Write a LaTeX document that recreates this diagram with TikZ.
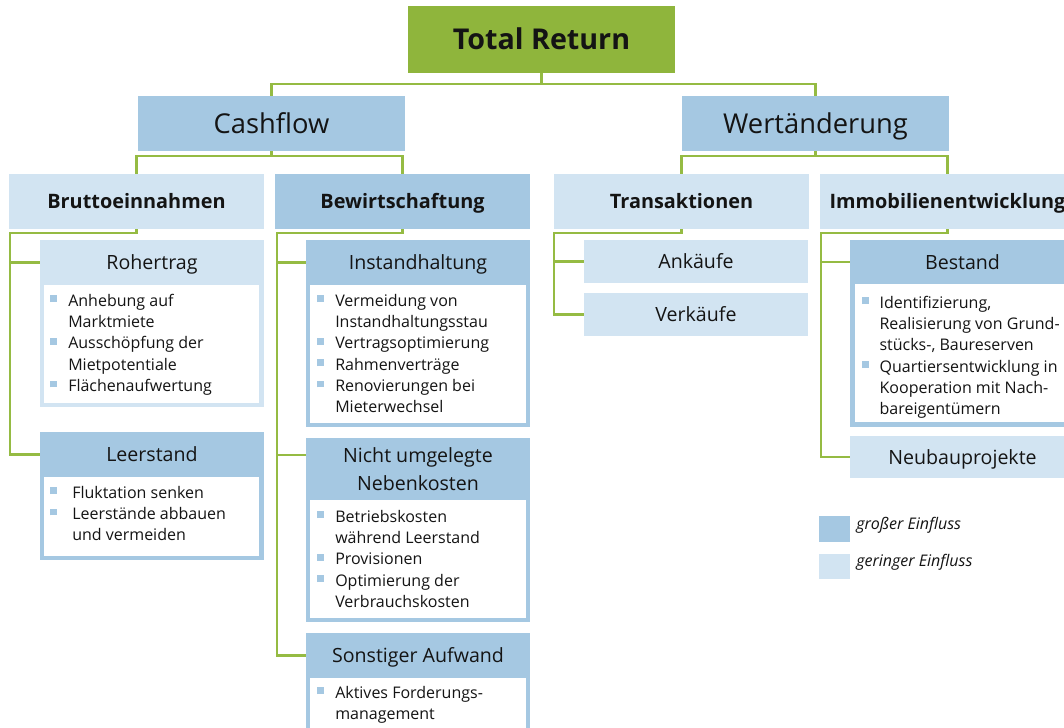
\documentclass[tikz,border=0pt]{standalone}
\usepackage{fontspec}
\setmainfont{Open Sans}
\usetikzlibrary{fit,calc}
\definecolor{gr}{HTML}{8FB53C}
\definecolor{ln}{HTML}{95BB43}
\definecolor{db}{HTML}{A5C8E2}
\definecolor{lb}{HTML}{D2E4F2}
\definecolor{tx}{HTML}{141414}
\newcommand{\bsq}{\textcolor{db}{\rule[3pt]{5pt}{5pt}}}
\newcommand{\bodyf}{\fontsize{12}{16}\selectfont}
\begin{document}
\begin{tikzpicture}[x=0.75pt,y=-0.75pt,
  box/.style={inner sep=0pt, outer sep=0pt, draw=none},
  dk/.style={box, fill=db},
  lt/.style={box, fill=lb},
  gn/.style={box, fill=gr},
  wh/.style={box, fill=white},
  hd/.style={box},
  conn/.style={draw=ln, line width=1.9pt},
  ttop/.style={inner sep=0pt, text=tx, font=\fontsize{21.5}{26}\selectfont\bfseries, text height=15.35pt, text depth=0pt},
  tone/.style={inner sep=0pt, text=tx, font=\fontsize{20.5}{25}\selectfont, text height=14.6pt, text depth=0pt},
  ttwo/.style={inner sep=0pt, text=tx, font=\fontsize{14.9}{18}\selectfont\bfseries, text height=10.6pt, text depth=0pt},
  tthr/.style={inner sep=0pt, text=tx, font=\fontsize{14.7}{21}\selectfont, text height=10.5pt, text depth=0pt},
  lst/.style={inner sep=0pt, text=tx, font=\bodyf, anchor=base west},
  leg/.style={inner sep=0pt, text=tx, font=\bodyf\itshape, anchor=base west}
]
\useasboundingbox (0,0) rectangle (1064,728);
\fill[white] (0,0) rectangle (1064,728);
\clip (0,0) rectangle (1064,728);

% level 0 and 1
\node[gn, fit={(408,6) (675,73)}] (total) {};
\node[ttop] (totalT) at (total.center) {Total Return};
\node[dk, fit={(138,96) (405,151)}] (cash) {};
\node[tone] (cashT) at (cash.center) {Cashflow};
\node[dk, fit={(682,96) (949,151)}] (wert) {};
\node[tone] (wertT) at (wert.center) {Wertänderung};

% level 2
\node[lt, fit={(9,174) (264,229)}] (brutto) {};
\node[ttwo] (bruttoT) at (brutto.center) {Bruttoeinnahmen};
\node[dk, fit={(275,174) (530,229)}] (bewirt) {};
\node[ttwo] (bewirtT) at (bewirt.center) {Bewirtschaftung};
\node[lt, fit={(554,174) (809,229)}] (trans) {};
\node[ttwo] (transT) at (trans.center) {Transaktionen};
\node[lt, fit={(820,174) (1075,229)}] (immo) {};
\node[ttwo] (immoT) at (immo.center) {Immobilienentwicklung};

% Rohertrag
\node[lt, fit={(40,240) (264,407)}] (roh) {};
\node[hd, fit={(40,240) (264,285)}] (rohH) {};
\node[wh, fit={(44,285) (259,403)}] (rohI) {};
\node[tthr] (rohT) at (rohH.center) {Rohertrag};
\node[lst] (rohL) at (50,306) {\begin{tabular}[t]{@{}l@{\hspace{8.5pt}}l@{}}
\bsq & Anhebung auf\\ & Marktmiete\\ \bsq & Ausschöpfung der\\ & Mietpotentiale\\ \bsq & Flächenaufwertung\end{tabular}};

% Leerstand
\node[dk, fit={(40,432) (264,560)}] (leer) {};
\node[hd, fit={(40,432) (264,477)}] (leerH) {};
\node[wh, fit={(44,477) (259,556)}] (leerI) {};
\node[tthr] (leerT) at (leerH.center) {Leerstand};
\node[lst] (leerL) at (50,498) {\begin{tabular}[t]{@{}l@{\hspace{11.5pt}}l@{}}
\bsq & Fluktation senken\\ \bsq & Leerstände abbauen\\ & und vermeiden\end{tabular}};

% Instandhaltung
\node[dk, fit={(306,240) (530,427)}] (inst) {};
\node[hd, fit={(306,240) (530,285)}] (instH) {};
\node[wh, fit={(310,285) (526,423)}] (instI) {};
\node[tthr] (instT) at (instH.center) {Instandhaltung};
\node[lst] (instL) at (317,306) {\begin{tabular}[t]{@{}l@{\hspace{8.5pt}}l@{}}
\bsq & Vermeidung von\\ & Instandhaltungsstau\\ \bsq & Vertragsoptimierung\\ \bsq & Rahmenverträge\\ \bsq & Renovierungen bei\\ & Mieterwechsel\end{tabular}};

% Nicht umgelegte Nebenkosten
\node[dk, fit={(306,438) (530,622)}] (nicht) {};
\node[hd, fit={(306,438) (530,500)}] (nichtH) {};
\node[wh, fit={(310,500) (526,618)}] (nichtI) {};
\node[tthr, text height=, text depth=, align=center, anchor=base] (nichtT) at (418,490) {Nicht umgelegte\\Nebenkosten};
\node[lst] (nichtL) at (317,522) {\begin{tabular}[t]{@{}l@{\hspace{8.5pt}}l@{}}
\bsq & Betriebskosten\\ & während Leerstand\\ \bsq & Provisionen\\ \bsq & Optimierung der\\ & Verbrauchskosten\end{tabular}};

% Sonstiger Aufwand
\node[dk, fit={(306,633) (530,745)}] (sonst) {};
\node[hd, fit={(306,633) (530,678)}] (sonstH) {};
\node[wh, fit={(310,678) (526,745)}] (sonstI) {};
\node[tthr] (sonstT) at (sonstH.center) {Sonstiger Aufwand};
\node[lst] (sonstL) at (317,698) {\begin{tabular}[t]{@{}l@{\hspace{8.5pt}}l@{}}
\bsq & Aktives Forderungs-\\ & management\end{tabular}};

% Transaktionen children
\node[lt, fit={(584,240) (808,283)}] (ank) {};
\node[tthr] (ankT) at (ank.center) {Ankäufe};
\node[lt, fit={(584,293) (808,336)}] (verk) {};
\node[tthr] (verkT) at (verk.center) {Verkäufe};

% Bestand
\node[dk, fit={(850,240) (1075,427)}] (best) {};
\node[hd, fit={(850,240) (1075,284)}] (bestH) {};
\node[wh, fit={(855,284) (1070,422)}] (bestI) {};
\node[tthr] (bestT) at (bestH.center) {Bestand};
\node[lst] (bestL) at (862,308) {\begin{tabular}[t]{@{}l@{\hspace{8pt}}l@{}}
\bsq & Identifizierung,\\ & Realisierung von Grund-\\ & stücks-, Baureserven\\ \bsq & Quartiersentwicklung in\\ & Kooperation mit Nach-\\ & bareigentümern\end{tabular}};

% Neubauprojekte
\node[lt, fit={(850,436) (1075,478)}] (neubau) {};
\node[tthr] (neubauT) at (neubau.center) {Neubauprojekte};

% legend
\node[dk, fit={(819,516) (850,542)}] (legD) {};
\node[leg] (legDT) at (856,529) {großer Einfluss};
\node[lt, fit={(819,554) (850,579)}] (legL) {};
\node[leg] (legLT) at (856,566) {geringer Einfluss};

% connectors
\draw[conn] (total.south) -- (total.south |- 0,84) -| (cash.north);
\draw[conn] (total.south) -- (total.south |- 0,84) -| (wert.north);
\draw[conn] (cash.south) -- (cash.south |- 0,156) -| (brutto.north);
\draw[conn] (cash.south) -- (cash.south |- 0,156) -| (bewirt.north);
\draw[conn] (wert.south) -- (wert.south |- 0,156) -| (trans.north);
\draw[conn] (wert.south) -- (wert.south |- 0,156) -| (immo.north);

\coordinate (bA) at (10,233);
\draw[conn] (brutto.south) |- (bA) |- (leerH.west);
\draw[conn] (bA |- rohH.west) -- (rohH.west);

\coordinate (wA) at (277,233);
\coordinate (nichtB) at ([yshift=-12.75pt]nichtH.north west);
\draw[conn] (bewirt.south) |- (wA) |- (sonstH.west);
\draw[conn] (wA |- instH.west) -- (instH.west);
\draw[conn] (wA |- nichtB) -- (nichtB);

\coordinate (tA) at (554,233);
\draw[conn] (trans.south) |- (tA) |- (verk.west);
\draw[conn] (tA |- ank.west) -- (ank.west);

\coordinate (iA) at (821,233);
\draw[conn] (immo.south) |- (iA) |- (neubau.west);
\draw[conn] (iA |- bestH.west) -- (bestH.west);
\end{tikzpicture}
\end{document}
